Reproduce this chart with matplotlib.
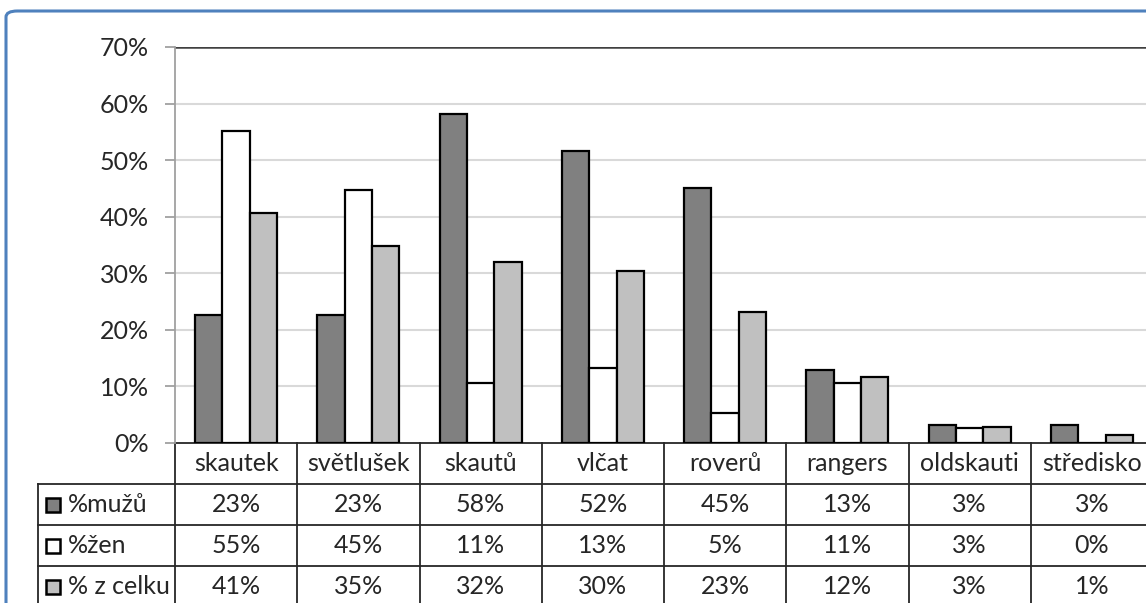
import numpy as np
import matplotlib
matplotlib.use("Agg")
import matplotlib.pyplot as plt
from matplotlib.patches import FancyBboxPatch, Rectangle

CATEGORIES = ["skautek", "světlušek", "skautů", "vlčat", "roverů",
              "rangers", "oldskauti", "středisko"]
SERIES = ["%mužů", "%žen", "% z celku"]
MUZU  = [22.6, 22.6, 58.1, 51.6, 45.1, 12.9, 3.2, 3.2]
ZEN   = [55.2, 44.8, 10.6, 13.2, 5.3, 10.6, 2.6, 0.0]
CELKU = [40.6, 34.9, 32.0, 30.4, 23.1, 11.6, 2.8, 1.4]
COLORS = ["#808080", "#FFFFFF", "#C0C0C0"]
YTICKS = [0, 10, 20, 30, 40, 50, 60, 70]

W, H = 1146, 603
FONT = ["Lato", "DejaVu Sans"]
FS = 18

plt.rcParams["font.family"] = FONT

fig = plt.figure(figsize=(W / 100, H / 100), dpi=100)
fig.patch.set_facecolor("white")

# blue chart border (cropped on right / bottom)
border = FancyBboxPatch((6 / W, -0.2), 1.2, (H - 11) / H + 0.2,
                        boxstyle="round,pad=0,rounding_size=0.01",
                        transform=fig.transFigure, fill=False,
                        edgecolor="#4F81BD", linewidth=2.2)
fig.patches.append(border)

# plot area in pixels: x 175..1153, y 47..443
left, right, top, bottom = 175, 1153, 47, 443
ax = fig.add_axes([left / W, (H - bottom) / H, (right - left) / W, (bottom - top) / H])

n = len(CATEGORIES)
x = np.arange(n) + 0.5
bw = 0.224
for i, (vals, col) in enumerate(zip([MUZU, ZEN, CELKU], COLORS)):
    ax.bar(x + (i - 1) * bw, vals, width=bw, color=col, edgecolor="black",
           linewidth=1.6, zorder=3)

ax.set_xlim(0, n)
ax.set_ylim(0, 70)
ax.set_yticks(YTICKS)
ax.set_yticklabels([f"{v}%" for v in YTICKS], fontsize=FS, color="#262626")
ax.set_xticks([])
for v in YTICKS[1:-1]:
    ax.axhline(v, color="#D9D9D9", linewidth=1.5, zorder=1)
ax.axhline(70, color="#404040", linewidth=1.8, zorder=2)
for s in ["top", "right", "bottom"]:
    ax.spines[s].set_visible(False)
ax.spines["left"].set_color("#A0A0A0")
ax.spines["left"].set_linewidth(1.3)
ax.tick_params(axis="y", length=7, width=1.3, color="#A0A0A0", pad=12)

# data table under the plot
px_x = (right - left) / n          # pixels per category
row_h = 41 / (bottom - top)        # row height in axes fraction
lab_w = (left - 38) / px_x         # legend column width in data units
tr = ax.get_xaxis_transform()
lc = "#262626"
kw = dict(transform=tr, clip_on=False, color=lc, linewidth=1.3)

ax.plot([0, n], [0, 0], **kw)
for r in range(1, 4):
    ax.plot([-lab_w, n], [-r * row_h, -r * row_h], **kw)
ax.plot([-lab_w, -lab_w], [-row_h, -4 * row_h], **kw)
for c in range(n + 1):
    ax.plot([c, c], [0, -4 * row_h], **kw)

for c, cat in enumerate(CATEGORIES):
    ax.text(c + 0.5, -0.5 * row_h, cat, transform=tr, ha="center", va="center",
            fontsize=FS, color="#262626")

ks = 14 / px_x
kh = 14 / (bottom - top)
for r, (name, vals, col) in enumerate(zip(SERIES, [MUZU, ZEN, CELKU], COLORS)):
    yc = -(r + 1.5) * row_h
    for c, v in enumerate(vals):
        ax.text(c + 0.5, yc, f"{v:.0f}%", transform=tr, ha="center", va="center",
                fontsize=FS, color="#262626")
    ax.add_patch(Rectangle(((46 - left) / px_x, yc - kh / 2), ks, kh,
                           transform=tr, clip_on=False, facecolor=col,
                           edgecolor="black", linewidth=1.8))
    ax.text((68 - left) / px_x, yc, name, transform=tr,
            ha="left", va="center", fontsize=FS, color="#262626")

fig.savefig("out.png", dpi=100)
